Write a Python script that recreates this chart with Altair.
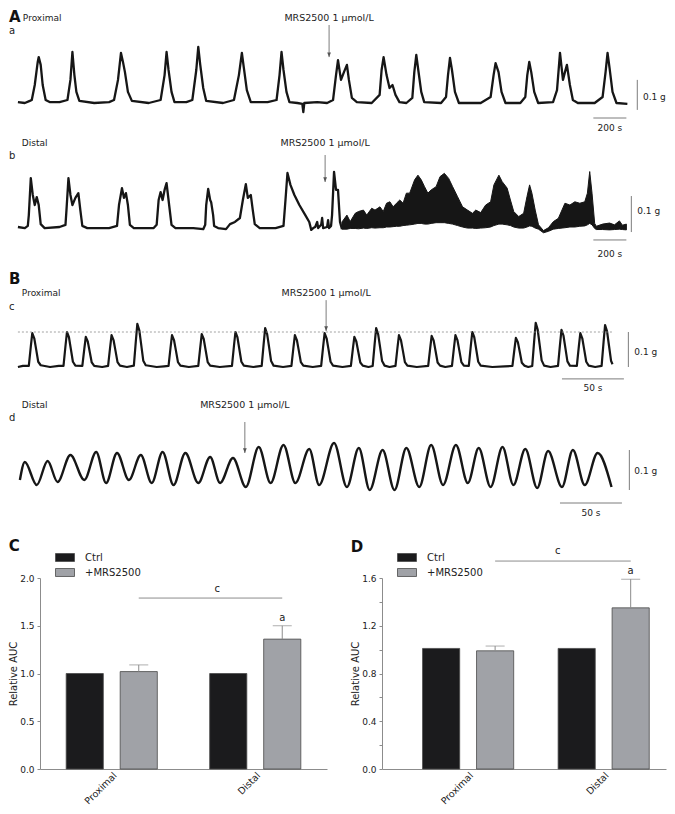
import altair as alt
import pandas as pd

FONT = "DejaVu Sans"
INK = "#161616"
GREY = "#7c7c7c"
TXT = "#222222"

# ---------------- isometric force traces: (time in s, force in g above baseline) ----------------
# A-a : proximal colon, 200 s / 0.1 g
trace_a = [
    (0, 0.003), (42, 0.0), (72, 0.007),
    (84, 0.01), (102, 0.06), (120, 0.137), (126, 0.153), (138, 0.127), (150, 0.06), (168, 0.01), (192, 0.003),
    (252, 0.003),
    (300, 0.01), (318, 0.077), (330, 0.17), (342, 0.093), (354, 0.037), (372, 0.007),
    (462, 0.0), (552, 0.003),
    (582, 0.01), (606, 0.077), (624, 0.167), (636, 0.137), (648, 0.103), (666, 0.037), (690, 0.007),
    (792, 0.0),
    (864, 0.01), (888, 0.093), (900, 0.17), (912, 0.11), (930, 0.037), (948, 0.003),
    (1020, 0.003),
    (1056, 0.01), (1080, 0.11), (1092, 0.187), (1104, 0.127), (1122, 0.05), (1140, 0.007),
    (1242, 0.0),
    (1308, 0.01), (1338, 0.093), (1356, 0.167), (1368, 0.117), (1386, 0.043), (1410, 0.003),
    (1512, 0.003),
    (1566, 0.01), (1584, 0.093), (1596, 0.17), (1608, 0.11), (1626, 0.037), (1644, 0.003),
    (1692, 0.0), (1722, -0.003), (1728, -0.03), (1734, 0.0), (1812, 0.003), (1872, 0.0), (1908, 0.01),
    (1926, 0.093), (1938, 0.143), (1956, 0.077), (1974, 0.103), (1992, 0.127), (2004, 0.077), (2022, 0.017), (2052, 0.003),
    (2142, 0.0),
    (2190, 0.027), (2202, 0.11), (2214, 0.153), (2232, 0.093), (2250, 0.05), (2268, 0.06), (2286, 0.027), (2310, 0.003),
    (2352, 0.0),
    (2388, 0.017), (2400, 0.103), (2412, 0.16), (2424, 0.11), (2442, 0.037), (2460, 0.003),
    (2562, 0.0),
    (2592, 0.02), (2604, 0.093), (2616, 0.15), (2628, 0.11), (2646, 0.037), (2670, 0.0),
    (2802, 0.0),
    (2862, 0.02), (2880, 0.093), (2892, 0.133), (2910, 0.103), (2928, 0.037), (2952, 0.0),
    (3042, 0.0),
    (3072, 0.02), (3084, 0.093), (3096, 0.137), (3108, 0.103), (3126, 0.037), (3150, 0.0),
    (3240, 0.003),
    (3264, 0.043), (3282, 0.167), (3300, 0.077), (3312, 0.103), (3324, 0.127), (3342, 0.06), (3360, 0.01), (3390, 0.0),
    (3492, 0.0),
    (3540, 0.02), (3558, 0.103), (3570, 0.167), (3582, 0.117), (3600, 0.037), (3624, 0.0),
    (3690, -0.003),
]

# A-b : distal colon, 200 s / 0.1 g (before and just after MRS2500)
trace_b = [
    (0, 0.0), (42, -0.003), (60, 0.003),
    (66, 0.033), (78, 0.136), (90, 0.089), (102, 0.061), (114, 0.083), (126, 0.061), (138, 0.008), (162, -0.003),
    (252, 0.0), (288, 0.006),
    (294, 0.047), (306, 0.136), (318, 0.089), (330, 0.061), (348, 0.081), (366, 0.094), (378, 0.047), (390, 0.003), (420, -0.003),
    (552, -0.003), (600, 0.003),
    (612, 0.061), (630, 0.108), (642, 0.081), (654, 0.094), (666, 0.061), (678, 0.006), (702, -0.003),
    (822, -0.003), (840, 0.006),
    (852, 0.075), (864, 0.097), (876, 0.075), (888, 0.103), (900, 0.122), (912, 0.075), (930, 0.006), (954, -0.003),
    (1062, -0.003), (1122, -0.006), (1134, 0.006),
    (1140, 0.061), (1152, 0.106), (1164, 0.075), (1170, 0.069), (1182, 0.033), (1188, 0.003), (1212, -0.003),
    (1260, -0.006), (1284, 0.008), (1314, 0.014),
    (1344, 0.025), (1362, 0.075), (1380, 0.119), (1392, 0.081), (1410, 0.089), (1422, 0.047), (1434, 0.008), (1464, -0.003),
    (1560, -0.003), (1608, 0.003),
    (1620, 0.075), (1632, 0.15), (1650, 0.117), (1674, 0.089), (1704, 0.061), (1740, 0.033), (1764, 0.014),
    (1776, -0.008), (1788, -0.003),
    (1800, 0.0), (1812, 0.014), (1818, -0.003), (1836, 0.006), (1842, 0.025), (1848, -0.003), (1872, 0.0),
    (1878, 0.019), (1884, -0.003), (1896, 0.003),
    (1902, 0.033), (1914, 0.153), (1926, 0.103), (1938, 0.103), (1950, 0.014), (1962, -0.006),
]

# A-b after MRS2500: envelope of the dense phasic activity (time s, upper g, lower g)
band_b = [
    (1962, 0.014, -0.006), (1992, 0.033, -0.006), (2012, 0.015, -0.004), (2042, 0.038, -0.004),
    (2062, 0.043, -0.005), (2092, 0.047, -0.003), (2112, 0.033, -0.004), (2142, 0.052, -0.002),
    (2162, 0.047, -0.003), (2192, 0.056, -0.002), (2212, 0.043, -0.002), (2232, 0.066, 0.0),
    (2252, 0.07, 0.0), (2272, 0.056, 0.001), (2292, 0.066, 0.002), (2312, 0.075, 0.002),
    (2332, 0.066, 0.004), (2352, 0.094, 0.005), (2372, 0.094, 0.006), (2402, 0.131, 0.008),
    (2422, 0.144, 0.01), (2442, 0.131, 0.01), (2462, 0.112, 0.008), (2482, 0.094, 0.008),
    (2502, 0.103, 0.01), (2532, 0.112, 0.012), (2556, 0.14, 0.012), (2582, 0.149, 0.012),
    (2608, 0.135, 0.01), (2632, 0.112, 0.008), (2662, 0.084, 0.004), (2692, 0.056, 0.0),
    (2722, 0.047, -0.003), (2752, 0.038, -0.003), (2772, 0.047, -0.004), (2802, 0.04, -0.003),
    (2832, 0.061, -0.002), (2862, 0.07, 0.0), (2882, 0.117, 0.004), (2912, 0.144, 0.008),
    (2932, 0.126, 0.008), (2962, 0.108, 0.006), (2982, 0.075, 0.004), (3002, 0.043, 0.0),
    (3032, 0.029, -0.003), (3062, 0.038, -0.003), (3082, 0.084, 0.0), (3098, 0.117, 0.003),
    (3112, 0.094, 0.002), (3132, 0.047, -0.003), (3152, 0.006, -0.006), (3182, -0.01, -0.016),
    (3212, -0.002, -0.012), (3242, 0.015, -0.006), (3272, 0.024, -0.004), (3312, 0.066, -0.002),
    (3342, 0.061, 0.0), (3372, 0.07, 0.0), (3402, 0.066, 0.002), (3432, 0.07, 0.003),
    (3448, 0.094, 0.006), (3462, 0.154, 0.01), (3476, 0.094, 0.006), (3492, 0.01, -0.004),
    (3502, 0.002, -0.007), (3540, 0.008, -0.007), (3582, 0.011, -0.008), (3612, 0.006, -0.007),
    (3642, 0.017, -0.006), (3660, 0.005, -0.007), (3684, 0.008, -0.008),
]

# B-c : proximal colon, 50 s / 0.1 g
trace_c = [
    (0, 0.0), (4, 0.003),
    (8.8, 0.003), (10.4, 0.058), (11.6, 0.097), (13.2, 0.082), (14.8, 0.049), (16.4, 0.015), (18.4, 0.005),
    (26, 0.0), (33, 0.003),
    (36.8, 0.003), (38.4, 0.06), (39.6, 0.1), (41.2, 0.085), (42.8, 0.05), (44.4, 0.015), (46.4, 0.004),
    (52.0, 0.003), (53.6, 0.052), (54.8, 0.086), (56.4, 0.073), (58.0, 0.043), (59.6, 0.013), (61.6, 0.003),
    (68, 0.0),
    (72.8, 0.003), (74.4, 0.055), (75.6, 0.091), (77.2, 0.077), (78.8, 0.046), (80.4, 0.014), (82.4, 0.004),
    (88, 0.0),
    (93.6, 0.004), (95.2, 0.074), (96.4, 0.123), (98.0, 0.105), (99.6, 0.062), (101.2, 0.018), (103.2, 0.005),
    (112, 0.0), (118, 0.002),
    (121.6, 0.003), (123.2, 0.055), (124.4, 0.091), (126.0, 0.077), (127.6, 0.046), (129.2, 0.014), (131.2, 0.004),
    (138, 0.0),
    (145.6, 0.003), (147.2, 0.056), (148.4, 0.094), (150.0, 0.08), (151.6, 0.047), (153.2, 0.014), (155.2, 0.004),
    (163, 0.0),
    (172.8, 0.003), (174.4, 0.06), (175.6, 0.1), (177.2, 0.085), (178.8, 0.05), (180.4, 0.015), (182.4, 0.004),
    (190, 0.0),
    (196.8, 0.003), (198.4, 0.067), (199.6, 0.111), (201.2, 0.094), (202.8, 0.056), (204.4, 0.017), (206.4, 0.004),
    (214, 0.0),
    (220.8, 0.003), (222.4, 0.055), (223.6, 0.091), (225.2, 0.077), (226.8, 0.046), (228.4, 0.014), (230.4, 0.004),
    (238, 0.0),
    (244.8, 0.003), (246.4, 0.058), (247.6, 0.097), (249.2, 0.082), (250.8, 0.049), (252.4, 0.015), (254.4, 0.004),
    (262, 0.0),
    (268.8, 0.003), (270.4, 0.052), (271.6, 0.086), (273.2, 0.073), (274.8, 0.043), (276.4, 0.013), (278.4, 0.004),
    (283, 0.0),
    (286.4, 0.003), (288.0, 0.067), (289.2, 0.111), (290.8, 0.094), (292.4, 0.056), (294.0, 0.017), (296.0, 0.004),
    (300, 0.0),
    (304.8, 0.003), (306.4, 0.055), (307.6, 0.091), (309.2, 0.077), (310.8, 0.046), (312.4, 0.014), (314.4, 0.004),
    (322, 0.0),
    (331.2, 0.003), (332.8, 0.053), (334.0, 0.089), (335.6, 0.076), (337.2, 0.045), (338.8, 0.013), (340.8, 0.004),
    (345, 0.0),
    (350.4, 0.003), (352.0, 0.055), (353.2, 0.091), (354.8, 0.077), (356.4, 0.046), (358.0, 0.014), (360.0, 0.004),
    (364.0, 0.003), (365.6, 0.06), (366.8, 0.1), (368.4, 0.085), (370.0, 0.05), (371.6, 0.015), (373.6, 0.004),
    (383, 0.0), (393, 0.002),
    (399.2, 0.003), (400.8, 0.05), (402.0, 0.083), (403.6, 0.071), (405.2, 0.042), (406.8, 0.012), (408.8, 0.004),
    (412, 0.0),
    (415.2, 0.003), (416.8, 0.076), (418.0, 0.126), (419.6, 0.107), (421.2, 0.063), (422.8, 0.019), (424.8, 0.004),
    (430, 0.0),
    (436.0, 0.003), (437.6, 0.064), (438.8, 0.106), (440.4, 0.09), (442.0, 0.053), (443.6, 0.016), (445.6, 0.004),
    (451.2, 0.003), (452.8, 0.058), (454.0, 0.097), (455.6, 0.082), (457.2, 0.049), (458.8, 0.015), (460.8, 0.004),
    (466, 0.0),
    (471.2, 0.003), (472.8, 0.072), (474.0, 0.12), (475.6, 0.102), (477.2, 0.06), (478.8, 0.018), (480.0, 0.008),
]

# B-d : distal colon, 50 s / 0.1 g (alternating peaks and troughs)
trace_d = [
    (1.6, 0.0175), (5.6, 0.0625), (15.2, 0.005), (24, 0.065), (32, 0.0125), (42.4, 0.08), (53.6, 0.0175),
    (63.2, 0.0875), (71.2, 0.01), (80, 0.085), (89.6, 0.0175), (99.2, 0.08), (108, 0.01), (116.8, 0.0875),
    (125.6, 0.005), (135.2, 0.085), (145.6, 0.01), (155.2, 0.075), (163.2, 0.01), (173.6, 0.0725), (184, 0.0),
    (194.4, 0.1), (204, 0.01), (214.4, 0.105), (224, 0.01), (235.2, 0.095), (243.2, 0.005), (255.2, 0.11),
    (265.6, 0.0), (275.2, 0.0975), (284, -0.0075), (294.4, 0.0925), (304, -0.0075), (313.6, 0.0975), (324, 0.0),
    (333.6, 0.105), (343.2, 0.005), (353.6, 0.105), (363.2, 0.01), (372, 0.0975), (381.6, 0.0), (391.2, 0.1),
    (400, 0.005), (409.6, 0.095), (419.2, -0.0025), (428, 0.09), (439.2, 0.0), (448, 0.0925), (457.6, 0.005),
    (468, 0.085), (479.2, 0.0),
]

# ---------------- relative AUC bar charts ----------------
regions = ["Proximal", "Distal"]
groups = ["Ctrl", "+MRS2500"]
C_mean = [1.00, 1.02, 1.00, 1.36]
C_sem = [0.0, 0.07, 0.0, 0.14]
D_mean = [1.01, 0.99, 1.01, 1.35]
D_sem = [0.0, 0.04, 0.0, 0.24]

DRUG_LABEL = "MRS2500 1 \u03bcmol/L"
ARROW = "M-1,-2.5L1,-2.5L0,0Z"

TOTAL_W = 659      # whole figure width (page is 675 with 8px margins)
LC = 32            # left extent of the bar-chart y axes; trace panels share that origin
WT = TOTAL_W - LC  # trace panel width
K = 0.991          # horizontal compression so the figure fits the page


def trace_panel(h, xdom, ydom, line, letter, sub, texts_c, texts_l, rules, heads,
                band=None, dashed=None, interp="linear", sw=2.3):
    xs = alt.Scale(domain=xdom, nice=False, zero=False)
    ys = alt.Scale(domain=ydom, nice=False, zero=False)

    def X(f):
        return alt.X(f, type="quantitative", scale=xs, axis=None)

    def Y(f):
        return alt.Y(f, type="quantitative", scale=ys, axis=None)

    layers = []
    ldf = pd.DataFrame(line, columns=["t", "g"])
    layers.append(alt.Chart(ldf).mark_line(color=INK, strokeWidth=sw, interpolate=interp,
                                           strokeJoin="round").encode(x=X("t"), y=Y("g")))
    if band is not None:
        bdf = pd.DataFrame(band, columns=["t", "hi", "lo"])
        layers.append(alt.Chart(bdf).mark_area(color=INK, opacity=1, stroke=INK, strokeWidth=1).encode(
            x=X("t"), y=Y("hi"), y2=alt.Y2("lo")))
    if dashed is not None:
        ddf = pd.DataFrame([dashed], columns=["t", "t2", "g"])
        layers.append(alt.Chart(ddf).mark_rule(color="#8a8a8a", strokeWidth=0.8, strokeDash=[2, 2]).encode(
            x=X("t"), x2=alt.X2("t2"), y=Y("g")))
    rdf = pd.DataFrame(rules, columns=["t", "t2", "g", "g2"])
    layers.append(alt.Chart(rdf).mark_rule(color=GREY, strokeWidth=1).encode(
        x=X("t"), x2=alt.X2("t2"), y=Y("g"), y2=alt.Y2("g2")))
    hdf = pd.DataFrame(heads, columns=["t", "g"])
    layers.append(alt.Chart(hdf).mark_point(shape=ARROW, size=14, filled=True, color="#555555",
                                            opacity=1).encode(x=X("t"), y=Y("g")))
    tl = pd.DataFrame(texts_l, columns=["t", "g", "label"])
    layers.append(alt.Chart(tl).mark_text(align="left", baseline="middle", fontSize=9, color=TXT).encode(
        x=X("t"), y=Y("g"), text="label:N"))
    tc = pd.DataFrame(texts_c, columns=["t", "g", "label", "size"])
    layers.append(alt.Chart(tc).mark_text(align="center", baseline="middle", color=TXT).encode(
        x=X("t"), y=Y("g"), text="label:N", size=alt.Size("size:Q", scale=None, legend=None)))
    sdf = pd.DataFrame([sub], columns=["t", "g", "label"])
    layers.append(alt.Chart(sdf).mark_text(align="left", baseline="middle", fontSize=10, color=TXT).encode(
        x=X("t"), y=Y("g"), text="label:N"))
    if letter is not None:
        fdf = pd.DataFrame([letter], columns=["t", "g", "label"])
        layers.append(alt.Chart(fdf).mark_text(align="left", baseline="top", fontSize=15, fontWeight="bold",
                                               color="#111111").encode(x=X("t"), y=Y("g"), text="label:N"))
    return alt.layer(*layers).properties(width=WT, height=h)


# time axes: A panels ~6 s per pixel, B panels ~0.8 s per pixel (compressed by K)
SPX_A = 6 / K
SPX_B = 0.8 / K
T0_PAGE = 8 + 10 * K                      # page x where t = 0
XA = [(8 + LC - T0_PAGE) * SPX_A, (8 + LC - T0_PAGE) * SPX_A + WT * SPX_A]
XB = [(8 + LC - T0_PAGE) * SPX_B, (8 + LC - T0_PAGE) * SPX_B + WT * SPX_B]
LEFT_A = XA[0] - 31 * SPX_A
LEFT_B = XB[0] - 31 * SPX_B

# Row 1: A-a
YA = [-(135 - 103) / 300, (103 - 8) / 300]
pa = trace_panel(
    127, XA, YA, trace_a,
    letter=(LEFT_A, YA[1] - 2 / 300, "A"), sub=(LEFT_A, 0.24, "a"),
    texts_l=[(30, 0.283, "Proximal"), (3784, 0.02, "0.1 g")],
    texts_c=[(1884, 0.283, DRUG_LABEL, 9.5), (3584, -0.083, "200 s", 9)],
    rules=[(1884, 1884, 0.26, 0.153), (3750, 3750, -0.023, 0.077), (3484, 3684, -0.05, -0.05)],
    heads=[(1884, 0.153)],
)

# Row 2: A-b
YB = [-(268 - 227) / 360, (227 - 135) / 360]
pb = trace_panel(
    133, XA, YB, trace_b,
    letter=None, sub=(LEFT_A, 0.197, "b"),
    texts_l=[(24, 0.233, "Distal"), (3750, 0.044, "0.1 g")],
    texts_c=[(1860, 0.233, DRUG_LABEL, 9.5), (3584, -0.075, "200 s", 9)],
    rules=[(1860, 1860, 0.2, 0.125), (3714, 3714, -0.014, 0.086), (3484, 3684, -0.036, -0.036)],
    heads=[(1860, 0.125)],
    band=band_b,
)

# Row 3: B-c
YC = [-(396 - 367) / 350, (367 - 268) / 350]
pc = trace_panel(
    128, XB, YC, trace_c,
    letter=(LEFT_B, YC[1] - 4 / 350, "B"), sub=(LEFT_B, 0.171, "c"),
    texts_l=[(3.2, 0.211, "Proximal"), (497.6, 0.043, "0.1 g")],
    texts_c=[(248.8, 0.211, DRUG_LABEL, 9.5), (464.2, -0.06, "50 s", 9)],
    rules=[(248.8, 248.8, 0.191, 0.103), (492.8, 492.8, 0.0, 0.1), (439.2, 489.2, -0.034, -0.034)],
    heads=[(248.8, 0.103)],
    dashed=(0, 480, 0.1),
    sw=2.2,
)

# Row 4: B-d
R4_BOTTOM = 538
YD = [-(R4_BOTTOM - 487) / 400, (487 - 396) / 400]
pd_ = trace_panel(
    R4_BOTTOM - 396, XB, YD, trace_d,
    letter=None, sub=(LEFT_B, 0.1725, "d"),
    texts_l=[(3.2, 0.205, "Distal"), (497.6, 0.04, "0.1 g")],
    texts_c=[(183.2, 0.205, DRUG_LABEL, 9.5), (462.6, -0.065, "50 s", 9)],
    rules=[(183.2, 183.2, 0.1625, 0.085), (493.6, 493.6, -0.0075, 0.0925), (437.6, 487.6, -0.04, -0.04)],
    heads=[(183.2, 0.085)],
    interp="monotone",
    sw=2.4,
)

BAR_H = 191


def bar_panel(mean, sem, ymax, ticks, label_expr, sig_y, c_y, a_y, c_dx, letter, width,
              align, pad_in, pad_out, title_dy):
    df = pd.DataFrame({
        "region": [r for r in regions for _ in groups],
        "group": groups * 2,
        "value": mean,
        "sem": sem,
    })
    df["top"] = df["value"] + df["sem"]
    xs = alt.Scale(domain=regions, paddingInner=pad_in, paddingOuter=pad_out, align=align)
    xos = alt.Scale(domain=groups, paddingInner=0.312, paddingOuter=0.073)
    xaxis = alt.Axis(title=None, labelAngle=-45, ticks=False, domainColor="#8c8c8c", labelFontSize=9.5,
                     labelColor=TXT, labelPadding=1)
    ys = alt.Scale(domain=[0, ymax], nice=False, zero=True)
    yaxis = alt.Axis(values=ticks, labelExpr=label_expr, tickSize=3, tickColor="#8c8c8c",
                     domainColor="#8c8c8c", labelFontSize=9, labelColor=TXT, labelPadding=3,
                     titleFontSize=10, titleFontWeight="normal", titleColor=TXT, titlePadding=1, grid=False)

    def X():
        return alt.X("region:N", scale=xs, sort=regions, axis=xaxis)

    def XO():
        return alt.XOffset("group:N", scale=xos, sort=groups)

    def Y(f):
        return alt.Y(f, type="quantitative", scale=ys, axis=yaxis, title="Relative AUC")

    bars = alt.Chart(df).mark_bar(stroke="#4a4a4a", strokeWidth=0.8).encode(
        x=X(), xOffset=XO(), y=Y("value"),
        color=alt.Color("group:N", sort=groups,
                        scale=alt.Scale(domain=groups, range=["#1b1b1d", "#a0a2a7"]),
                        legend=alt.Legend(orient="none", legendX=15, legendY=-26, title=None,
                                          symbolType="M-1,-0.42H1V0.42H-1Z", symbolSize=361,
                                          symbolStrokeColor="#4a4a4a", symbolStrokeWidth=0.8,
                                          labelFontSize=10, labelColor=TXT, labelOffset=10,
                                          rowPadding=4, clipHeight=11)),
    )
    edf = df[df["sem"] > 0]
    err = alt.Chart(edf).mark_rule(color="#8c8c8c", strokeWidth=1).encode(
        x=X(), xOffset=XO(), y=Y("value"), y2=alt.Y2("top"))
    cap = alt.Chart(edf).mark_tick(orient="horizontal", size=19, thickness=1, color="#8c8c8c").encode(
        x=X(), xOffset=XO(), y=Y("top"))
    sdf = pd.DataFrame({"region": regions, "group": ["+MRS2500", "+MRS2500"], "value": [sig_y, sig_y]})
    sig = alt.Chart(sdf).mark_line(color="#8c8c8c", strokeWidth=1).encode(x=X(), xOffset=XO(), y=Y("value"))
    cdf = pd.DataFrame({"region": ["Distal"], "group": ["Ctrl"], "value": [c_y], "label": ["c"]})
    ctext = alt.Chart(cdf).mark_text(dx=c_dx, fontSize=10, color=TXT).encode(
        x=X(), xOffset=XO(), y=Y("value"), text="label:N")
    adf = pd.DataFrame({"region": ["Distal"], "group": ["+MRS2500"], "value": [a_y], "label": ["a"]})
    atext = alt.Chart(adf).mark_text(fontSize=10, color=TXT).encode(
        x=X(), xOffset=XO(), y=Y("value"), text="label:N")
    return alt.layer(bars, err, cap, sig, ctext, atext).properties(
        width=width, height=BAR_H,
        title=alt.Title(letter, anchor="start", fontSize=15, fontWeight="bold", color="#111111",
                        offset=0, dy=title_dy),
    )


pC = bar_panel(C_mean, C_sem, 2.0, [0, 0.5, 1.0, 1.5, 2.0], "format(datum.value, '.1f')",
               1.79, 1.885, 1.58, -11, "C", 287, 0.5, 0.31, 0.155, 1.5)
pD = bar_panel(D_mean, D_sem, 1.6, [0, 0.2, 0.4, 0.6, 0.8, 1.0, 1.2, 1.4, 1.6],
               "round(datum.value * 10) % 4 == 0 ? format(datum.value, '.1f') : ''",
               1.742, 1.825, 1.66, -19, "D", 284, 0.74, 0.27, 0.1825, 8.5)

bars_row = alt.hconcat(pC, pD, spacing=23).resolve_legend(color="independent")

chart = alt.vconcat(
    pa, pb, pc, pd_, bars_row,
    spacing=0,
).resolve_legend(color="independent").properties(padding=0).configure(font=FONT).configure_view(stroke=None)

chart.save("out.html", embed_options={"renderer": "svg", "actions": False})
